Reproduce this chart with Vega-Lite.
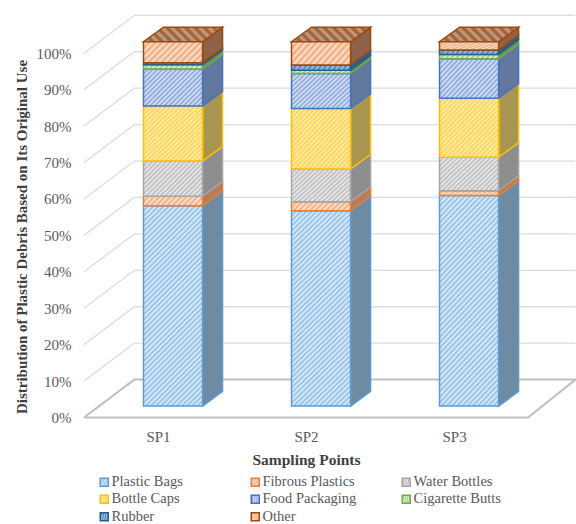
{
"$schema":"https://vega.github.io/schema/vega-lite/v6.json",
"width":492,"height":408,
"autosize":{"type":"none"},
"padding":{"left":84,"top":9.5,"right":0,"bottom":106.5},
"background":"white",
"config":{"view":{"stroke":null},"font":"Liberation Serif"},
"params":[
{"name":"pa","value":"#8dbde8"},{"name":"pb","value":"#e3eff9"},
{"name":"fa","value":"#f2aa78"},{"name":"fb","value":"#fde8da"},
{"name":"wa","value":"#b8b8b8"},{"name":"wb","value":"#eeeeee"},
{"name":"ca","value":"#ffd044"},{"name":"cb","value":"#fff0ba"},
{"name":"da","value":"#84a2da"},{"name":"db","value":"#dfe7f6"},
{"name":"ga","value":"#9cc87f"},{"name":"gb","value":"#e4f0db"},
{"name":"ra","value":"#4d80b0"},{"name":"rb","value":"#aac3db"},
{"name":"oa","value":"#eda877"},{"name":"ob","value":"#fce3d2"},
{"name":"ta","value":"#98592f"},{"name":"tb","value":"#c9a288"},
{"name":"hatchPlastic","expr":"{gradient:'linear',x1:0,y1:0,x2:0.351,y2:1.191,stops:[{offset:0,color:pa},{offset:.01,color:pb},{offset:.02,color:pa},{offset:.03,color:pb},{offset:.04,color:pa},{offset:.05,color:pb},{offset:.06,color:pa},{offset:.07,color:pb},{offset:.08,color:pa},{offset:.09,color:pb},{offset:.1,color:pa},{offset:.11,color:pb},{offset:.12,color:pa},{offset:.13,color:pb},{offset:.14,color:pa},{offset:.15,color:pb},{offset:.16,color:pa},{offset:.17,color:pb},{offset:.18,color:pa},{offset:.19,color:pb},{offset:.2,color:pa},{offset:.21,color:pb},{offset:.22,color:pa},{offset:.23,color:pb},{offset:.24,color:pa},{offset:.25,color:pb},{offset:.26,color:pa},{offset:.27,color:pb},{offset:.28,color:pa},{offset:.29,color:pb},{offset:.3,color:pa},{offset:.31,color:pb},{offset:.32,color:pa},{offset:.33,color:pb},{offset:.34,color:pa},{offset:.35,color:pb},{offset:.36,color:pa},{offset:.37,color:pb},{offset:.38,color:pa},{offset:.39,color:pb},{offset:.4,color:pa},{offset:.41,color:pb},{offset:.42,color:pa},{offset:.43,color:pb},{offset:.44,color:pa},{offset:.45,color:pb},{offset:.46,color:pa},{offset:.47,color:pb},{offset:.48,color:pa},{offset:.49,color:pb},{offset:.5,color:pa},{offset:.51,color:pb},{offset:.52,color:pa},{offset:.53,color:pb},{offset:.54,color:pa},{offset:.55,color:pb},{offset:.56,color:pa},{offset:.57,color:pb},{offset:.58,color:pa},{offset:.59,color:pb},{offset:.6,color:pa},{offset:.61,color:pb},{offset:.62,color:pa},{offset:.63,color:pb},{offset:.64,color:pa},{offset:.65,color:pb},{offset:.66,color:pa},{offset:.67,color:pb},{offset:.68,color:pa},{offset:.69,color:pb},{offset:.7,color:pa},{offset:.71,color:pb},{offset:.72,color:pa},{offset:.73,color:pb},{offset:.74,color:pa},{offset:.75,color:pb},{offset:.76,color:pa},{offset:.77,color:pb},{offset:.78,color:pa},{offset:.79,color:pb},{offset:.8,color:pa},{offset:.81,color:pb},{offset:.82,color:pa},{offset:.83,color:pb},{offset:.84,color:pa},{offset:.85,color:pb},{offset:.86,color:pa},{offset:.87,color:pb},{offset:.88,color:pa},{offset:.89,color:pb},{offset:.9,color:pa},{offset:.91,color:pb},{offset:.92,color:pa},{offset:.93,color:pb},{offset:.94,color:pa},{offset:.95,color:pb},{offset:.96,color:pa},{offset:.97,color:pb},{offset:.98,color:pa},{offset:.99,color:pb},{offset:1,color:pa}]}"},
{"name":"hatchFibrous","expr":"{gradient:'linear',x1:0,y1:0,x2:1.126,y2:0.172,stops:[{offset:0,color:fa},{offset:.04,color:fb},{offset:.08,color:fa},{offset:.12,color:fb},{offset:.16,color:fa},{offset:.2,color:fb},{offset:.24,color:fa},{offset:.28,color:fb},{offset:.32,color:fa},{offset:.36,color:fb},{offset:.4,color:fa},{offset:.44,color:fb},{offset:.48,color:fa},{offset:.52,color:fb},{offset:.56,color:fa},{offset:.6,color:fb},{offset:.64,color:fa},{offset:.68,color:fb},{offset:.72,color:fa},{offset:.76,color:fb},{offset:.8,color:fa},{offset:.84,color:fb},{offset:.88,color:fa},{offset:.92,color:fb},{offset:.96,color:fa},{offset:1,color:fb}]}"},
{"name":"hatchWater","expr":"{gradient:'linear',x1:0,y1:0,x2:1.178,y2:0.699,stops:[{offset:0,color:wa},{offset:.025,color:wb},{offset:.05,color:wa},{offset:.075,color:wb},{offset:.1,color:wa},{offset:.125,color:wb},{offset:.15,color:wa},{offset:.175,color:wb},{offset:.2,color:wa},{offset:.225,color:wb},{offset:.25,color:wa},{offset:.275,color:wb},{offset:.3,color:wa},{offset:.325,color:wb},{offset:.35,color:wa},{offset:.375,color:wb},{offset:.4,color:wa},{offset:.425,color:wb},{offset:.45,color:wa},{offset:.475,color:wb},{offset:.5,color:wa},{offset:.525,color:wb},{offset:.55,color:wa},{offset:.575,color:wb},{offset:.6,color:wa},{offset:.625,color:wb},{offset:.65,color:wa},{offset:.675,color:wb},{offset:.7,color:wa},{offset:.725,color:wb},{offset:.75,color:wa},{offset:.775,color:wb},{offset:.8,color:wa},{offset:.825,color:wb},{offset:.85,color:wa},{offset:.875,color:wb},{offset:.9,color:wa},{offset:.925,color:wb},{offset:.95,color:wa},{offset:.975,color:wb},{offset:1,color:wa}]}"},
{"name":"hatchCaps","expr":"{gradient:'linear',x1:0,y1:0,x2:1.008,y2:0.991,stops:[{offset:0,color:ca},{offset:.02,color:cb},{offset:.04,color:ca},{offset:.06,color:cb},{offset:.08,color:ca},{offset:.1,color:cb},{offset:.12,color:ca},{offset:.14,color:cb},{offset:.16,color:ca},{offset:.18,color:cb},{offset:.2,color:ca},{offset:.22,color:cb},{offset:.24,color:ca},{offset:.26,color:cb},{offset:.28,color:ca},{offset:.3,color:cb},{offset:.32,color:ca},{offset:.34,color:cb},{offset:.36,color:ca},{offset:.38,color:cb},{offset:.4,color:ca},{offset:.42,color:cb},{offset:.44,color:ca},{offset:.46,color:cb},{offset:.48,color:ca},{offset:.5,color:cb},{offset:.52,color:ca},{offset:.54,color:cb},{offset:.56,color:ca},{offset:.58,color:cb},{offset:.6,color:ca},{offset:.62,color:cb},{offset:.64,color:ca},{offset:.66,color:cb},{offset:.68,color:ca},{offset:.7,color:cb},{offset:.72,color:ca},{offset:.74,color:cb},{offset:.76,color:ca},{offset:.78,color:cb},{offset:.8,color:ca},{offset:.82,color:cb},{offset:.84,color:ca},{offset:.86,color:cb},{offset:.88,color:ca},{offset:.9,color:cb},{offset:.92,color:ca},{offset:.94,color:cb},{offset:.96,color:ca},{offset:.98,color:cb},{offset:1,color:ca}]}"},
{"name":"hatchFood","expr":"{gradient:'linear',x1:0,y1:0,x2:1.168,y2:0.732,stops:[{offset:0,color:da},{offset:.025,color:db},{offset:.05,color:da},{offset:.075,color:db},{offset:.1,color:da},{offset:.125,color:db},{offset:.15,color:da},{offset:.175,color:db},{offset:.2,color:da},{offset:.225,color:db},{offset:.25,color:da},{offset:.275,color:db},{offset:.3,color:da},{offset:.325,color:db},{offset:.35,color:da},{offset:.375,color:db},{offset:.4,color:da},{offset:.425,color:db},{offset:.45,color:da},{offset:.475,color:db},{offset:.5,color:da},{offset:.525,color:db},{offset:.55,color:da},{offset:.575,color:db},{offset:.6,color:da},{offset:.625,color:db},{offset:.65,color:da},{offset:.675,color:db},{offset:.7,color:da},{offset:.725,color:db},{offset:.75,color:da},{offset:.775,color:db},{offset:.8,color:da},{offset:.825,color:db},{offset:.85,color:da},{offset:.875,color:db},{offset:.9,color:da},{offset:.925,color:db},{offset:.95,color:da},{offset:.975,color:db},{offset:1,color:da}]}"},
{"name":"hatchCig","expr":"{gradient:'linear',x1:0,y1:0,x2:1.07,y2:0.082,stops:[{offset:0,color:ga},{offset:.04,color:gb},{offset:.08,color:ga},{offset:.12,color:gb},{offset:.16,color:ga},{offset:.2,color:gb},{offset:.24,color:ga},{offset:.28,color:gb},{offset:.32,color:ga},{offset:.36,color:gb},{offset:.4,color:ga},{offset:.44,color:gb},{offset:.48,color:ga},{offset:.52,color:gb},{offset:.56,color:ga},{offset:.6,color:gb},{offset:.64,color:ga},{offset:.68,color:gb},{offset:.72,color:ga},{offset:.76,color:gb},{offset:.8,color:ga},{offset:.84,color:gb},{offset:.88,color:ga},{offset:.92,color:gb},{offset:.96,color:ga},{offset:1,color:gb}]}"},
{"name":"hatchRubber","expr":"{gradient:'linear',x1:0,y1:0,x2:1.055,y2:0.063,stops:[{offset:0,color:ra},{offset:.04,color:rb},{offset:.08,color:ra},{offset:.12,color:rb},{offset:.16,color:ra},{offset:.2,color:rb},{offset:.24,color:ra},{offset:.28,color:rb},{offset:.32,color:ra},{offset:.36,color:rb},{offset:.4,color:ra},{offset:.44,color:rb},{offset:.48,color:ra},{offset:.52,color:rb},{offset:.56,color:ra},{offset:.6,color:rb},{offset:.64,color:ra},{offset:.68,color:rb},{offset:.72,color:ra},{offset:.76,color:rb},{offset:.8,color:ra},{offset:.84,color:rb},{offset:.88,color:ra},{offset:.92,color:rb},{offset:.96,color:ra},{offset:1,color:rb}]}"},
{"name":"hatchOther","expr":"{gradient:'linear',x1:0,y1:0,x2:1.203,y2:0.428,stops:[{offset:0,color:oa},{offset:.04,color:ob},{offset:.08,color:oa},{offset:.12,color:ob},{offset:.16,color:oa},{offset:.2,color:ob},{offset:.24,color:oa},{offset:.28,color:ob},{offset:.32,color:oa},{offset:.36,color:ob},{offset:.4,color:oa},{offset:.44,color:ob},{offset:.48,color:oa},{offset:.52,color:ob},{offset:.56,color:oa},{offset:.6,color:ob},{offset:.64,color:oa},{offset:.68,color:ob},{offset:.72,color:oa},{offset:.76,color:ob},{offset:.8,color:oa},{offset:.84,color:ob},{offset:.88,color:oa},{offset:.92,color:ob},{offset:.96,color:oa},{offset:1,color:ob}]}"},
{"name":"hatchLid","expr":"{gradient:'linear',x1:0,y1:1,x2:1.145,y2:0.79,stops:[{offset:0,color:ta},{offset:.05,color:tb},{offset:.1,color:ta},{offset:.15,color:tb},{offset:.2,color:ta},{offset:.25,color:tb},{offset:.3,color:ta},{offset:.35,color:tb},{offset:.4,color:ta},{offset:.45,color:tb},{offset:.5,color:ta},{offset:.55,color:tb},{offset:.6,color:ta},{offset:.65,color:tb},{offset:.7,color:ta},{offset:.75,color:tb},{offset:.8,color:ta},{offset:.85,color:tb},{offset:.9,color:ta},{offset:.95,color:tb},{offset:1,color:ta}]}"}
],
"datasets":{
"shares":[
{"point":"SP1","material":"Plastic Bags","share":55.0},
{"point":"SP1","material":"Fibrous Plastics","share":2.6},
{"point":"SP1","material":"Water Bottles","share":9.65},
{"point":"SP1","material":"Bottle Caps","share":15.1},
{"point":"SP1","material":"Food Packaging","share":10.15},
{"point":"SP1","material":"Cigarette Butts","share":1.2},
{"point":"SP1","material":"Rubber","share":0.5},
{"point":"SP1","material":"Other","share":5.8},
{"point":"SP2","material":"Plastic Bags","share":53.6},
{"point":"SP2","material":"Fibrous Plastics","share":2.5},
{"point":"SP2","material":"Water Bottles","share":8.95},
{"point":"SP2","material":"Bottle Caps","share":16.65},
{"point":"SP2","material":"Food Packaging","share":9.6},
{"point":"SP2","material":"Cigarette Butts","share":0.9},
{"point":"SP2","material":"Rubber","share":1.4},
{"point":"SP2","material":"Other","share":6.4},
{"point":"SP3","material":"Plastic Bags","share":57.8},
{"point":"SP3","material":"Fibrous Plastics","share":1.3},
{"point":"SP3","material":"Water Bottles","share":9.2},
{"point":"SP3","material":"Bottle Caps","share":16.2},
{"point":"SP3","material":"Food Packaging","share":10.8},
{"point":"SP3","material":"Cigarette Butts","share":1.2},
{"point":"SP3","material":"Rubber","share":1.2},
{"point":"SP3","material":"Other","share":2.3}
],
"levels":[{"level":10},{"level":20},{"level":30},{"level":40},{"level":50},{"level":60},{"level":70},{"level":80},{"level":90},{"level":100}],
"floor":[
{"corner":0,"across":0.5,"up":0},
{"corner":1,"across":0.84,"up":10.4},
{"corner":2,"across":3.82,"up":10.4},
{"corner":3,"across":3.5,"up":0},
{"corner":4,"across":0.5,"up":0}
]
},
"layer":[
{
"data":{"name":"levels"},
"transform":[
{"calculate":"[0,1,2]","as":"bend"},
{"flatten":["bend"]},
{"calculate":"[0.5,0.84,3.82][datum.bend]","as":"across"},
{"calculate":"datum.level+[0,10.4,10.4][datum.bend]","as":"up"}
],
"mark":{"type":"line","color":"#dcdcdc","strokeWidth":1.3},
"encoding":{
"x":{"field":"across","type":"quantitative","scale":{"domain":[0.5,3.824],"nice":false,"zero":false},
"axis":{"values":[1,2,3],"labelExpr":"'SP'+datum.value","grid":false,"domain":false,"ticks":false,"labelPadding":12,"labelFont":"Liberation Serif","labelFontSize":15,"labelColor":"#595959","title":"Sampling Points","titleFont":"Liberation Serif","titleFontSize":15.5,"titleFontWeight":"bold","titleColor":"#404040","titleX":222,"titleY":35}},
"y":{"field":"up","type":"quantitative","scale":{"domain":[0,112],"nice":false,"zero":false},
"axis":{"values":[0,10,20,30,40,50,60,70,80,90,100],"labelExpr":"datum.value+'%'","grid":false,"domain":false,"ticks":false,"labelPadding":13,"labelFont":"Liberation Serif","labelFontSize":15,"labelColor":"#595959","title":"Distribution of Plastic Debris Based on Its Original Use","titleFont":"Liberation Serif","titleFontSize":15,"titleFontWeight":"bold","titleColor":"#404040","titleX":-55,"titleY":227}},
"detail":{"field":"level"},
"order":{"field":"bend"}
}
},
{
"data":{"name":"floor"},
"mark":{"type":"line","color":"#bfbfbf","strokeWidth":2},
"encoding":{
"x":{"field":"across","type":"quantitative"},
"y":{"field":"up","type":"quantitative"},
"order":{"field":"corner"}
}
},
{
"data":{"name":"shares"},
"transform":[
{"stack":"share","groupby":["point"],"as":["low","high"]},
{"calculate":"toNumber(slice(datum.point,2))","as":"site"},
{"calculate":"[0,1]","as":"depth"},
{"flatten":["depth"]},
{"calculate":"datum.site+0.301+0.135*datum.depth","as":"across"},
{"calculate":"datum.low+3.15+4*datum.depth","as":"bottom"},
{"calculate":"datum.high+3.15+4*datum.depth","as":"top"}
],
"mark":{"type":"area","strokeWidth":1.5,"opacity":1},
"encoding":{
"x":{"field":"across","type":"quantitative"},
"y":{"field":"bottom","type":"quantitative","stack":null},
"y2":{"field":"top"},
"detail":{"field":"point"},
"fill":{"field":"material","type":"nominal","legend":null,"scale":{
"domain":["Other","Rubber","Cigarette Butts","Food Packaging","Bottle Caps","Water Bottles","Fibrous Plastics","Plastic Bags"],
"range":["#8f6147","#2f5f88","#6f8f55","#62789f","#a8954f","#8d8d8d","#b27d5b","#6f8aa3"]}},
"stroke":{"field":"material","type":"nominal","scale":{
"domain":["Plastic Bags","Fibrous Plastics","Water Bottles","Bottle Caps","Food Packaging","Cigarette Butts","Rubber","Other"],
"range":["#5B9BD5","#ED7D31","#A5A5A5","#FFC000","#4472C4","#70AD47","#255E91","#9E480E"]}}
}
},
{
"data":{"name":"shares"},
"transform":[
{"stack":"share","groupby":["point"],"as":["low","high"]},
{"filter":"datum.material=='Other'"},
{"calculate":"toNumber(slice(datum.point,2))","as":"site"},
{"calculate":"[0,1,2,3]","as":"knot"},
{"flatten":["knot"]},
{"calculate":"datum.site-0.098+[0,0.135,0.399,0.534][datum.knot]","as":"across"},
{"calculate":"datum.high+3.15+[0,0,0,4][datum.knot]","as":"near"},
{"calculate":"datum.high+3.15+[0,4,4,4][datum.knot]","as":"far"}
],
"mark":{"type":"area","fill":{"expr":"hatchLid"},"stroke":"#9E480E","strokeWidth":1.5},
"encoding":{
"x":{"field":"across","type":"quantitative"},
"y":{"field":"near","type":"quantitative","stack":null},
"y2":{"field":"far"},
"detail":{"field":"point"}
}
},
{
"data":{"name":"shares"},
"transform":[
{"stack":"share","groupby":["point"],"as":["low","high"]},
{"calculate":"toNumber(slice(datum.point,2))","as":"site"},
{"calculate":"datum.site-0.098","as":"left"},
{"calculate":"datum.site+0.301","as":"right"},
{"calculate":"datum.low+3.15","as":"bottom"},
{"calculate":"datum.high+3.15","as":"top"}
],
"mark":{"type":"rect","strokeWidth":1.5},
"encoding":{
"x":{"field":"left","type":"quantitative"},
"x2":{"field":"right"},
"y":{"field":"bottom","type":"quantitative"},
"y2":{"field":"top"},
"color":{"field":"material","type":"nominal","scale":{
"domain":["Plastic Bags","Fibrous Plastics","Water Bottles","Bottle Caps","Food Packaging","Cigarette Butts","Rubber","Other"],
"range":[{"expr":"hatchPlastic"},{"expr":"hatchFibrous"},{"expr":"hatchWater"},{"expr":"hatchCaps"},{"expr":"hatchFood"},{"expr":"hatchCig"},{"expr":"hatchRubber"},{"expr":"hatchOther"}]},
"legend":{"orient":"none","direction":"horizontal","legendX":13,"legendY":465,"columns":3,"gridAlign":"all","columnPadding":42,"rowPadding":1.5,"title":null,"symbolType":"square","symbolSize":64,"symbolStrokeWidth":1.5,"labelFont":"Liberation Serif","labelFontSize":14.5,"labelColor":"#595959","labelOffset":0}},
"stroke":{"field":"material","type":"nominal"}
}
}
]
}
